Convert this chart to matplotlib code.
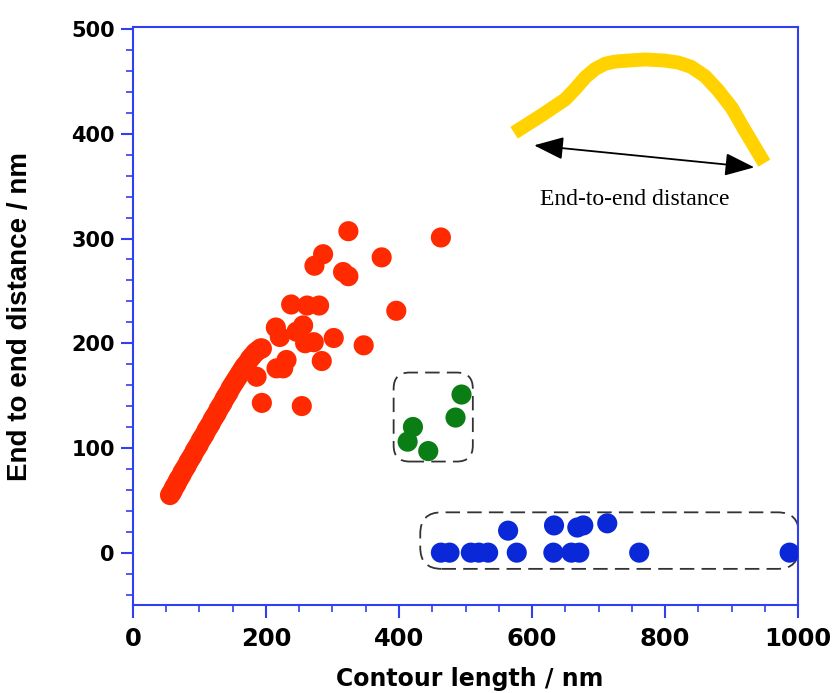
import matplotlib
matplotlib.use("Agg")
import matplotlib.pyplot as plt
from matplotlib.patches import FancyBboxPatch
from matplotlib.ticker import MultipleLocator

# data (contour length, end-to-end distance) in nm
red_x = [56, 58, 60, 62, 64, 66, 68, 70, 73, 75, 78, 81, 84, 87, 90, 93, 96, 99,
         102, 105, 108, 111, 114, 117, 120, 123, 126, 129, 132, 135, 138, 141, 144,
         147, 150, 153, 156, 159, 162, 165, 168, 172, 176, 180, 184, 188, 192,
         324, 463, 286, 273, 374, 316, 324, 396, 238, 262, 280, 215, 256, 246,
         272, 259, 302, 347, 221, 231, 216, 226, 284, 194, 186, 194, 254]
red_y = [55, 57, 59, 62, 64, 66, 69, 71, 74, 77, 80, 83, 87, 90, 93, 97, 100, 103,
         107, 110, 113, 117, 120, 123, 127, 130, 133, 137, 140, 143, 147, 150, 153,
         157, 160, 163, 166, 169, 172, 175, 178, 181, 185, 188, 191, 193, 195,
         307, 301, 285, 274, 282, 268, 264, 231, 237, 236, 236, 215, 217, 211,
         201, 200, 205, 198, 206, 184, 176, 176, 183, 195, 168, 143, 140]

green_x = [494, 485, 421, 413, 444]
green_y = [151, 129, 120, 106, 97]

blue_x = [463, 476, 508, 520, 534, 577, 632, 659, 671, 761, 987,
          564, 633, 668, 677, 713]
blue_y = [0, 0, 0, 0, 0, 0, 0, 0, 0, 0, 0,
          21, 26, 24, 26, 28]

# sketch of a chain in the upper right corner
chain_x = [573, 615, 650, 665, 680, 695, 710, 725, 745, 770, 799, 820, 839,
           860, 879, 900, 919, 935, 949]
chain_y = [401, 418, 433, 443, 454, 462, 467, 469, 470, 471, 470, 468, 464,
           455, 442, 425, 404, 387, 372]

axis_blue = '#3040f0'

fig = plt.figure(figsize=(8.35, 6.93), dpi=100)
ax = fig.add_axes([0.159, 0.127, 0.797, 0.834])

ax.set_xlim(0, 1000)
ax.set_ylim(-50, 502)

# dashed boxes around the green and blue groups
px_x = 0.797 * 835 / 1000
px_y = 0.834 * 693 / 552
aspect = px_x / px_y
box_kw = dict(fill=False, edgecolor='#333333', linewidth=1.3,
              linestyle=(0, (8, 4)), mutation_aspect=aspect, zorder=2)
ax.add_patch(FancyBboxPatch((392, 87), 119, 85,
                            boxstyle='round,pad=0,rounding_size=24', **box_kw))
ax.add_patch(FancyBboxPatch((432, -15.5), 569, 54,
                            boxstyle='round,pad=0,rounding_size=32', **box_kw))

ax.scatter(red_x, red_y, s=210, color='#ff2a00', edgecolors='none', zorder=3)
ax.scatter(green_x, green_y, s=210, color='#0a7d14', edgecolors='none', zorder=3)
ax.scatter(blue_x, blue_y, s=210, color='#0a28d8', edgecolors='none', zorder=3)

# inset drawing
ax.plot(chain_x, chain_y, color='#ffd200', linewidth=10, solid_capstyle='butt',
        solid_joinstyle='round', zorder=2)
ax.annotate('', xy=(603, 389), xytext=(934, 368),
            arrowprops=dict(arrowstyle='<|-|>,head_length=1.3,head_width=0.5',
                            mutation_scale=14, color='black', lw=1.3,
                            shrinkA=0, shrinkB=0))
ax.text(755, 337, 'End-to-end distance', family='Liberation Serif',
        fontsize=17, ha='center', va='center')

for side in ['left', 'right', 'top', 'bottom']:
    ax.spines[side].set_color(axis_blue)
    ax.spines[side].set_linewidth(1.5)

ax.xaxis.set_major_locator(MultipleLocator(200))
ax.xaxis.set_minor_locator(MultipleLocator(50))
ax.yaxis.set_major_locator(MultipleLocator(100))
ax.yaxis.set_minor_locator(MultipleLocator(20))
ax.tick_params(which='major', direction='out', length=9, width=1.5, color=axis_blue)
ax.tick_params(which='minor', direction='out', length=5, width=1.2, color=axis_blue)
ax.tick_params(axis='x', pad=7)
ax.tick_params(axis='y', pad=4)

for lab in ax.get_xticklabels():
    lab.set_family('DejaVu Sans')
    lab.set_fontweight('bold')
    lab.set_fontsize(17.5)
for lab in ax.get_yticklabels():
    lab.set_family('DejaVu Sans')
    lab.set_fontweight('bold')
    lab.set_fontsize(15)

ax.set_xlabel('Contour length / nm', family='DejaVu Sans',
              fontweight='bold', fontsize=17)
ax.set_ylabel('End to end distance / nm', family='Liberation Sans',
              fontweight='bold', fontsize=20)
ax.xaxis.set_label_coords(0.506, -0.108)
ax.yaxis.set_label_coords(-0.150, 0.5)

fig.savefig('out.png', dpi=100)
